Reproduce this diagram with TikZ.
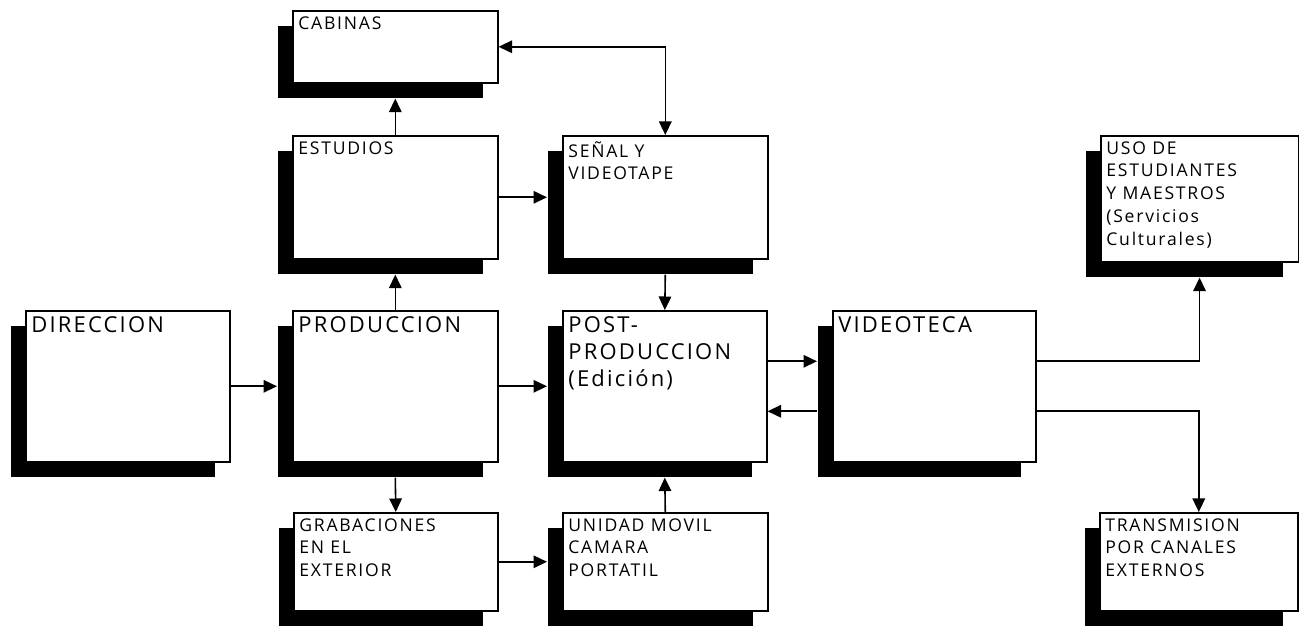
\documentclass[tikz,border=0pt]{standalone}
\usepackage{fontspec}
\setmainfont[LetterSpace=10]{Open Sans}
\usetikzlibrary{arrows.meta,shadows}

\begin{document}
\begin{tikzpicture}[
    >={Triangle[length=0.27cm,width=0.25cm]},
    caja/.style={draw, line width=0.9pt, fill=white, anchor=north west, inner sep=0pt,
      drop shadow={shadow xshift=-0.3cm, shadow yshift=-0.3cm, opacity=1, fill=black}},
    rotulo/.style={anchor=north west, align=left, inner sep=0.12cm, font=\fontsize{10}{13}\selectfont},
    grande/.style={rotulo, font=\fontsize{12.5}{15.3}\selectfont},
    flecha/.style={line width=0.9pt, ->},
    doble/.style={line width=0.9pt, <->}
  ]
  \useasboundingbox (0,0) rectangle (25.98,12.56);

  % FILA DE ARRIBA
  \node[caja, minimum width=4.1cm, minimum height=1.44cm, label={[rotulo,name=cabtxt]north west:CABINAS}] (cab) at (5.84,12.36) {};
  \node[caja, minimum width=4.1cm, minimum height=2.46cm, label={[rotulo,name=esttxt]north west:ESTUDIOS}] (est) at (5.84,9.86) {};
  \node[caja, minimum width=4.1cm, minimum height=2.46cm, label={[rotulo,name=sentxt]north west:SEÑAL Y\\VIDEOTAPE}] (sen) at (11.24,9.86) {};
  \node[caja, minimum width=3.95cm, minimum height=2.52cm, label={[rotulo,name=usotxt]north west:USO DE\\ESTUDIANTES\\Y MAESTROS\\(Servicios\\Culturales)}] (uso) at (22,9.86) {};

  % FILA DEL MEDIO
  \node[caja, minimum width=4.08cm, minimum height=3.02cm, label={[grande,name=dirtxt]north west:DIRECCION}] (dir) at (0.5,6.36) {};
  \node[caja, minimum width=4.1cm, minimum height=3.02cm, label={[grande,name=prodtxt]north west:PRODUCCION}] (prod) at (5.84,6.36) {};
  \node[caja, minimum width=4.08cm, minimum height=3.02cm, label={[grande,name=posttxt]north west:POST-\\PRODUCCION\\(Edición)}] (post) at (11.24,6.36) {};
  \node[caja, minimum width=4.06cm, minimum height=3.02cm, label={[grande,name=vidtxt]north west:VIDEOTECA}] (vid) at (16.64,6.36) {};

  % FILA DE ABAJO
  \node[caja, minimum width=4.08cm, minimum height=1.96cm, label={[rotulo,name=grabtxt]north west:GRABACIONES\\EN EL\\EXTERIOR}] (grab) at (5.86,2.32) {};
  \node[caja, minimum width=4.1cm, minimum height=1.96cm, label={[rotulo,name=unitxt]north west:UNIDAD MOVIL\\CAMARA\\PORTATIL}] (uni) at (11.24,2.32) {};
  \node[caja, minimum width=3.96cm, minimum height=1.96cm, label={[rotulo,name=tratxt]north west:TRANSMISION\\POR CANALES\\EXTERNOS}] (tra) at (21.98,2.32) {};

  % FLECHAS
  \draw[flecha] (dir.east) -- ([xshift=-0.3cm]prod.west);
  \draw[flecha] (prod.east) -- ([xshift=-0.3cm]post.west);
  \draw[flecha] (prod.north) -- ([yshift=-0.3cm]est.south);
  \draw[flecha] (est.north) -- ([yshift=-0.3cm]cab.south);
  \draw[flecha] (est.east) -- ([xshift=-0.3cm]sen.west);
  \draw[doble] (sen.north) |- (cab.east);
  \draw[flecha] ([yshift=-0.3cm]sen.south) -- (post.north);
  \draw[flecha] ([yshift=-0.3cm]prod.south) -- (grab.north);
  \draw[flecha] (grab.east) -- ([xshift=-0.3cm]uni.west);
  \draw[flecha] (uni.north) -- ([yshift=-0.3cm]post.south);
  \draw[flecha] ([yshift=0.5cm]post.east) -- ([xshift=-0.3cm,yshift=0.5cm]vid.west);
  \draw[flecha] ([xshift=-0.3cm,yshift=-0.5cm]vid.west) -- ([yshift=-0.5cm]post.east);
  \draw[flecha] ([yshift=0.5cm]vid.east) -| ([yshift=-0.3cm]uso.south);
  \draw[flecha] ([yshift=-0.5cm]vid.east) -| (tra.north);
\end{tikzpicture}
\end{document}
